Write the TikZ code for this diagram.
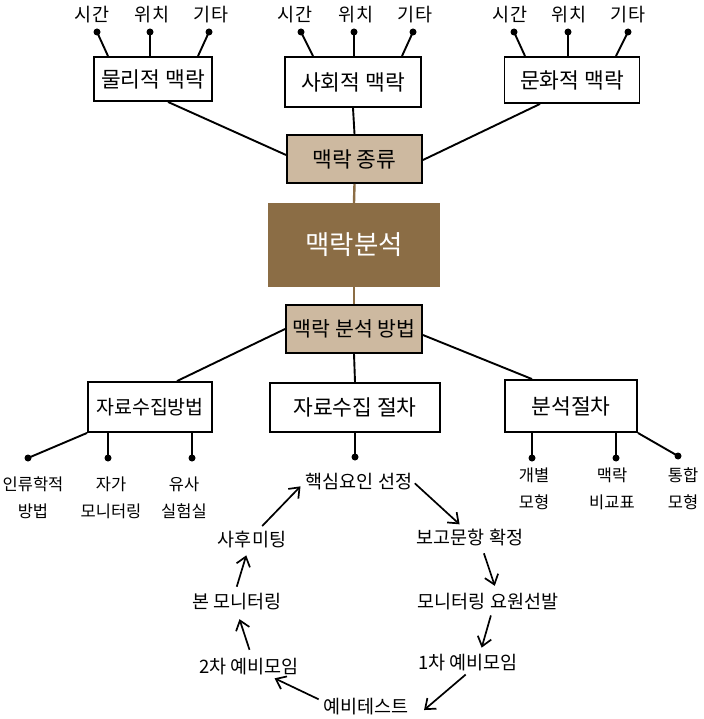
\documentclass[tikz,border=0pt]{standalone}
\usepackage{fontspec}
\setmainfont{Noto Sans CJK KR}
\usetikzlibrary{arrows.meta}
\definecolor{boxtan}{HTML}{CDB9A0}
\definecolor{dbrown}{HTML}{8B6D45}
\tikzset{
 box/.style={draw=black, line width=1.9pt, fill=white, inner sep=0pt, font=\fontsize{21.5}{24}\selectfont},
 tanbox/.style={box, fill=boxtan},
 mainbox/.style={draw=none, fill=dbrown, text=white, inner sep=0pt, font=\fontsize{26.5}{30}\selectfont},
 dot/.style={circle, fill=black, inner sep=0pt, minimum size=7pt},
 lbl/.style={font=\fontsize{18.5}{20}\selectfont, inner sep=0pt},
 two/.style={align=center, font=\fontsize{16.5}{27}\selectfont, inner sep=0pt},
 cyc/.style={font=\fontsize{18.5}{22}\selectfont, inner sep=1pt},
 link/.style={line width=1.9pt},
 blink/.style={line width=2.4pt, draw=dbrown},
 flow/.style={line width=1.7pt, -{Straight Barb[length=9pt,width=14pt,line width=1.7pt]}},
}
\begin{document}
\begin{tikzpicture}[x=1pt,y=-1pt]
\useasboundingbox (0,0) rectangle (703,719);

% top boxes
\node[box, minimum width=118pt, minimum height=44pt] (phys) at (153,79) {물리적 맥락};
\node[box, minimum width=136pt, minimum height=50pt] (soc) at (353,82) {사회적 맥락};
\node[box, minimum width=135pt, minimum height=46pt] (cult) at (572,80) {문화적 맥락};

% top labels and dots
\node[lbl] (l1) at (92,15) {시간};
\node[lbl] (l2) at (152,15) {위치};
\node[lbl] (l3) at (211,15) {기타};
\node[dot] (d1) at (97,32) {};
\node[dot] (d2) at (150,32) {};
\node[dot] (d3) at (209,32) {};
\draw[link] (d1.center) -- ([xshift=-45pt]phys.north);
\draw[link] (d2.center) -- ([xshift=-3pt]phys.north);
\draw[link] (d3.center) -- ([xshift=45pt]phys.north);

\node[lbl] (l4) at (295,15) {시간};
\node[lbl] (l5) at (356,15) {위치};
\node[lbl] (l6) at (415,15) {기타};
\node[dot] (d4) at (301,32) {};
\node[dot] (d5) at (354,32) {};
\node[dot] (d6) at (413,32) {};
\draw[link] (d4.center) -- ([xshift=-40pt]soc.north);
\draw[link] (d5.center) -- ([xshift=1pt]soc.north);
\draw[link] (d6.center) -- ([xshift=49pt]soc.north);

\node[lbl] (l7) at (510,15) {시간};
\node[lbl] (l8) at (569,15) {위치};
\node[lbl] (l9) at (628,15) {기타};
\node[dot] (d7) at (514,32) {};
\node[dot] (d8) at (568,32) {};
\node[dot] (d9) at (628,32) {};
\draw[link] (d7.center) -- ([xshift=-47pt]cult.north);
\draw[link] (d8.center) -- ([xshift=-4pt]cult.north);
\draw[link] (d9.center) -- ([xshift=44pt]cult.north);

% central column
\node[tanbox, minimum width=135pt, minimum height=48pt] (kind) at (354.5,159) {맥락 종류};
\node[mainbox, minimum width=172pt, minimum height=84pt] (main) at (354,245) {맥락분석};
\node[tanbox, minimum width=136pt, minimum height=48pt, font=\fontsize{20.5}{24}\selectfont] (meth) at (354,329) {맥락 분석 방법};

\draw[link] ([xshift=15pt]phys.south) -- ([yshift=4pt]kind.west);
\draw[link] (soc.south) -- (kind.north);
\draw[link] ([xshift=-32pt]cult.south) -- ([yshift=-1pt]kind.east);
\draw[blink] (kind.south) -- (main.north);
\draw[blink] (main.south) -- (meth.north);

% lower boxes
\node[box, minimum width=124pt, minimum height=50pt, font=\fontsize{19.5}{24}\selectfont] (coll) at (150,407) {자료수집방법};
\node[box, minimum width=170pt, minimum height=49pt] (proc) at (355,407.5) {자료수집 절차};
\node[box, minimum width=132pt, minimum height=52pt] (anal) at (571,406) {분석절차};

\draw[link] (meth.west) -- ([xshift=27pt]coll.north);
\draw[link] (meth.south) -- (proc.north);
\draw[link] ([yshift=-6pt]meth.east) -- ([xshift=-39pt]anal.north);

% collection children
\node[dot] (d10) at (28,458) {};
\node[dot] (d11) at (108,458) {};
\node[dot] (d12) at (192,458) {};
\draw[link] (coll.south west) -- (d10.center);
\draw[link] ([xshift=-42pt]coll.south) -- (d11.center);
\draw[link] ([xshift=42pt]coll.south) -- (d12.center);
\node[two, anchor=north] (b1) at (33,477) {인류학적\\방법};
\node[two, anchor=north] (b2) at (111,477) {자가\\모니터링};
\node[two, anchor=north] (b3) at (184,477) {유사\\실험실};

% analysis children
\node[dot] (d13) at (532,458) {};
\node[dot] (d14) at (616,458) {};
\node[dot] (d15) at (678,456) {};
\draw[link] ([xshift=-39pt]anal.south) -- (d13.center);
\draw[link] ([xshift=45pt]anal.south) -- (d14.center);
\draw[link] (anal.south east) -- (d15.center);
\node[two, anchor=north] (b4) at (534,468) {개별\\모형};
\node[two, anchor=north] (b5) at (612,468) {맥락\\비교표};
\node[two, anchor=north] (b6) at (683,468) {통합\\모형};

% procedure
\node[dot] (d16) at (355,457) {};
\draw[link] (proc.south) -- (d16.center);

% cycle
\node[cyc] (c1) at (359,482) {핵심요인 선정};
\node[cyc] (c2) at (470,538) {보고문항 확정};
\node[cyc] (c3) at (488,602) {모니터링 요원선발};
\node[cyc] (c4) at (468,663) {1차 예비모임};
\node[cyc] (c5) at (366,707) {예비테스트};
\node[cyc] (c6) at (249,667) {2차 예비모임};
\node[cyc] (c7) at (237,602) {본 모니터링};
\node[cyc] (c8) at (252,540) {사후미팅};

\draw[flow, shorten <=2pt, shorten >=6pt] (c1.east) -- ([xshift=-6pt]c2.north);
\draw[flow, shorten <=6pt, shorten >=7pt] ([xshift=12pt]c2.south) -- ([xshift=9pt]c3.north);
\draw[flow, shorten <=4pt, shorten >=6pt] ([xshift=4pt]c3.south) -- ([xshift=12pt]c4.north);
\draw[flow, shorten <=3pt, shorten >=3pt] ([xshift=0pt]c4.south) -- ([xshift=12pt,yshift=-5pt]c5.east);
\draw[flow, shorten <=4pt, shorten >=4pt] ([yshift=6pt]c5.west) -- ([xshift=22pt]c6.south);
\draw[flow, shorten <=8pt, shorten >=8pt] ([xshift=3pt]c6.north) -- ([xshift=0pt]c7.south);
\draw[flow, shorten <=6pt, shorten >=6pt] ([xshift=-2pt]c7.north) -- ([xshift=-4pt]c8.south);
\draw[flow, shorten <=6pt, shorten >=6pt] ([xshift=6pt]c8.north) -- (c1.west);
\end{tikzpicture}
\end{document}
